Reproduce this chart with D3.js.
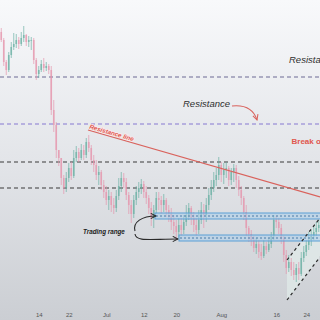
<!DOCTYPE html>
<html><head><meta charset="utf-8">
<script src="https://cdn.jsdelivr.net/npm/d3@7/dist/d3.min.js"></script>
<style>html,body{margin:0;padding:0;overflow:hidden;background:#fff}svg{display:block}</style>
</head><body>
<script>
// ---- data (price units) ----
const firstOpen = 1.1928;
const closes = [1.1920,1.1898,1.1890,1.1905,1.1913,1.1916,1.1920,1.1916,1.1922,1.1925,
1.1918,1.1920,1.1920,1.1900,1.1886,1.1890,1.1896,1.1892,1.1894,1.1890,
1.1850,1.1835,1.1810,1.1802,1.1782,1.1772,1.1782,1.1792,1.1784,1.1802,
1.1808,1.1802,1.1810,1.1805,1.1818,1.1812,1.1800,1.1795,1.1785,1.1788,
1.1775,1.1768,1.1760,1.1764,1.1755,1.1752,1.1764,1.1774,1.1782,1.1778,
1.1765,1.1755,1.1746,1.1760,1.1768,1.1772,1.1776,1.1768,1.1762,1.1752,
1.1742,1.1750,1.1762,1.1760,1.1755,1.1760,1.1750,1.1746,1.1738,1.1734,
1.1728,1.1735,1.1730,1.1738,1.1745,1.1752,1.1742,1.1735,1.1730,1.1740,
1.1750,1.1745,1.1755,1.1765,1.1772,1.1780,1.1785,1.1795,1.1785,1.1790,
1.1792,1.1780,1.1788,1.1792,1.1780,1.1770,1.1762,1.1748,1.1732,1.1726,
1.1720,1.1712,1.1716,1.1708,1.1704,1.1714,1.1710,1.1716,1.1724,1.1740,
1.1738,1.1732,1.1722,1.1705,1.1692,1.1698,1.1690,1.1685,1.1692,1.1686,
1.1702,1.1708,1.1715,1.1720,1.1724,1.1728,1.1732,1.1735];
const highs = [1.1932,1.1922,1.1900,1.1908,1.1918,1.1927,1.1926,1.1923,1.1928,1.1934,
1.1926,1.1924,1.1923,1.1922,1.1902,1.1894,1.1900,1.1902,1.1898,1.1896,
1.1894,1.1860,1.1838,1.1810,1.1802,1.1785,1.1788,1.1797,1.1798,1.1810,
1.1814,1.1812,1.1816,1.1815,1.1822,1.1825,1.1815,1.1805,1.1800,1.1794,
1.1790,1.1780,1.1774,1.1770,1.1768,1.1762,1.1770,1.1782,1.1788,1.1787,
1.1782,1.1768,1.1760,1.1765,1.1774,1.1778,1.1781,1.1779,1.1774,1.1765,
1.1758,1.1755,1.1768,1.1768,1.1764,1.1766,1.1762,1.1755,1.1752,1.1745,
1.1740,1.1742,1.1742,1.1745,1.1755,1.1757,1.1754,1.1748,1.1742,1.1750,
1.1758,1.1756,1.1762,1.1772,1.1780,1.1788,1.1792,1.1803,1.1798,1.1797,
1.1798,1.1794,1.1792,1.1796,1.1795,1.1784,1.1774,1.1764,1.1755,1.1734,
1.1730,1.1724,1.1722,1.1720,1.1716,1.1720,1.1718,1.1722,1.1728,1.1745,
1.1744,1.1742,1.1736,1.1724,1.1710,1.1705,1.1702,1.1698,1.1696,1.1698,
1.1708,1.1714,1.1720,1.1728,1.1730,1.1734,1.1738,1.1740];
const lows = [1.1918,1.1894,1.1885,1.1888,1.1902,1.1910,1.1912,1.1911,1.1914,1.1918,
1.1914,1.1913,1.1910,1.1896,1.1880,1.1882,1.1888,1.1888,1.1889,1.1886,
1.1845,1.1828,1.1802,1.1794,1.1775,1.1766,1.1768,1.1778,1.1780,1.1782,
1.1798,1.1798,1.1800,1.1800,1.1802,1.1808,1.1795,1.1788,1.1780,1.1775,
1.1770,1.1762,1.1755,1.1750,1.1748,1.1746,1.1748,1.1760,1.1768,1.1772,
1.1760,1.1746,1.1737,1.1742,1.1755,1.1762,1.1766,1.1762,1.1756,1.1746,
1.1734,1.1732,1.1746,1.1750,1.1746,1.1748,1.1743,1.1738,1.1730,1.1726,
1.1720,1.1722,1.1724,1.1726,1.1734,1.1740,1.1735,1.1728,1.1724,1.1726,
1.1736,1.1732,1.1738,1.1750,1.1760,1.1768,1.1774,1.1780,1.1778,1.1776,
1.1782,1.1774,1.1775,1.1778,1.1772,1.1764,1.1755,1.1740,1.1724,1.1718,
1.1714,1.1708,1.1706,1.1702,1.1700,1.1702,1.1706,1.1708,1.1712,1.1720,
1.1732,1.1726,1.1716,1.1698,1.1686,1.1688,1.1684,1.1680,1.1678,1.1680,
1.1684,1.1698,1.1704,1.1710,1.1714,1.1720,1.1724,1.1728];

const tickIndex = [15, 27, 42, 57, 70, 88, 110, 122];
const tickLabels = ["14", "22", "Jul", "12", "20", "Aug", "16", "24"];

const levels = [1.1883, 1.1836, 1.1798, 1.1772];
const levelKinds = ["grayPurple", "purple", "black", "black"];

const zoneTop = [1.1747, 1.1725];
const zoneBottom = [1.1741, 1.1719];
const zoneStart = [62, 71.6];

const trendIdx = [35.2, 128];
const trendPrice = [1.1830, 1.1763];

const channelIdx = [114.8, 128];
const channelUpper = [1.1700, 1.1742];
const channelLower = [1.1660, 1.1703];

// annotation anchors (index, price)
const labels = [
  {text: "Resistance", i: 115.6, p: 1.1897, kind: "note"},
  {text: "Resistance", i: 73.2, p: 1.1853, kind: "note"},
  {text: "Break of structure", i: 116.6, p: 1.1816, kind: "break"},
  {text: "Trading range", i: 33.2, p: 1.1726, kind: "range"}
];
const redArrow = [[92.8, 1.1854], [100.8, 1.1856], [102.8, 1.1840]];
const blackArrows = [
  [[54, 1.1729], [53.0, 1.1738], [56.8, 1.1744], [62.4, 1.1744]],
  [[54, 1.1726], [54.4, 1.1718], [60, 1.1721], [71.2, 1.1721]]
];

// ---- drawing ----
const W = 320, H = 320;
const svg = d3.select("body").append("svg").attr("width", W).attr("height", H);
const defs = svg.append("defs");
const grad = defs.append("linearGradient").attr("id", "bg").attr("x1", 0).attr("y1", 0).attr("x2", 0).attr("y2", 1);
grad.append("stop").attr("offset", "0%").attr("stop-color", "#f8f9fb");
grad.append("stop").attr("offset", "50%").attr("stop-color", "#e3e5e9");
grad.append("stop").attr("offset", "100%").attr("stop-color", "#cbced3");
svg.append("rect").attr("width", W).attr("height", H).attr("fill", "url(#bg)");

function marker(id, color) {
  defs.append("marker").attr("id", id).attr("viewBox", "0 0 8 8").attr("refX", 7).attr("refY", 4)
    .attr("markerWidth", 7).attr("markerHeight", 7).attr("orient", "auto").attr("markerUnits", "userSpaceOnUse")
    .append("path").attr("d", "M1,1 L7,4 L1,7").attr("fill", "none").attr("stroke", color).attr("stroke-width", 1.2);
}
marker("arrRed", "#d9625c");
marker("arrBlack", "#2a2a2a");

const x = d3.scaleLinear().domain([0, 128]).range([0, W]);
const y = d3.scaleLinear().domain([1.1960, 1.1640]).range([0, H]);

// channel fill
const chPoly = [[channelIdx[0], channelUpper[0]], [channelIdx[1], channelUpper[1]], [channelIdx[1], channelLower[1]], [channelIdx[0], channelLower[0]]];
svg.append("path").attr("d", d3.line().x(d => x(d[0])).y(d => y(d[1]))(chPoly) + "Z")
  .attr("fill", "#e6f3ee").attr("opacity", 0.55);

// horizontal levels
const levelColor = {grayPurple: "#6c6b93", purple: "#8679d2", black: "#3a3a3a"};
svg.append("g").selectAll("line").data(levels).join("line")
  .attr("x1", 0).attr("x2", W).attr("y1", d => y(d)).attr("y2", d => y(d))
  .attr("stroke", (d, i) => levelColor[levelKinds[i]]).attr("stroke-width", 1.2)
  .attr("stroke-dasharray", "4,3");

// candles
const candles = closes.map((c, i) => ({i, o: i === 0 ? firstOpen : closes[i - 1], c, h: highs[i], l: lows[i]}));
const up = "#66ae a1".replace(" ", ""), down = "#e693ab";
const g = svg.append("g").attr("opacity", 0.82);
g.selectAll("line.wick").data(candles).join("line").attr("class", "wick")
  .attr("x1", d => x(d.i + 0.5)).attr("x2", d => x(d.i + 0.5))
  .attr("y1", d => y(d.h)).attr("y2", d => y(d.l))
  .attr("stroke", d => d.c >= d.o ? up : down).attr("stroke-width", 0.8);
g.selectAll("rect.body").data(candles).join("rect").attr("class", "body")
  .attr("x", d => x(d.i + 0.5) - 0.8).attr("width", 1.6)
  .attr("y", d => y(Math.max(d.o, d.c)))
  .attr("height", d => Math.max(0.8, Math.abs(y(d.o) - y(d.c))))
  .attr("fill", d => d.c >= d.o ? up : down);

// trading range zones
zoneTop.forEach((t, k) => {
  const z = svg.append("g");
  z.append("rect").attr("x", x(zoneStart[k])).attr("width", W - x(zoneStart[k]) + 2)
    .attr("y", y(t)).attr("height", y(zoneBottom[k]) - y(t))
    .attr("fill", "#a9cdeb").attr("fill-opacity", 0.55).attr("stroke", "#5b9fd6").attr("stroke-width", 1);
  const mid = (t + zoneBottom[k]) / 2;
  z.append("line").attr("x1", x(zoneStart[k]) + 1).attr("x2", W).attr("y1", y(mid)).attr("y2", y(mid))
    .attr("stroke", "#3d6f9f").attr("stroke-width", 0.9).attr("stroke-dasharray", "2,2");
});

// resistance trend line
svg.append("line").attr("x1", x(trendIdx[0])).attr("y1", y(trendPrice[0]))
  .attr("x2", x(trendIdx[1])).attr("y2", y(trendPrice[1]))
  .attr("stroke", "#d9625c").attr("stroke-width", 1.3);
const ang = Math.atan2(y(trendPrice[1]) - y(trendPrice[0]), x(trendIdx[1]) - x(trendIdx[0])) * 180 / Math.PI;
svg.append("text").attr("transform", `translate(${x(trendIdx[0]) + 1},${y(trendPrice[0]) - 1.5}) rotate(${ang})`)
  .attr("font-family", "Liberation Sans, Arial, sans-serif").attr("font-size", 6.3)
  .attr("font-weight", "bold").attr("font-style", "italic").attr("fill", "#e0574f")
  .attr("stroke", "#fbeaea").attr("stroke-width", 1.4).attr("paint-order", "stroke")
  .text("Resistance line");

// channel dashed lines
[channelUpper, channelLower].forEach(ch => {
  svg.append("line").attr("x1", x(channelIdx[0])).attr("y1", y(ch[0]))
    .attr("x2", x(channelIdx[1])).attr("y2", y(ch[1]))
    .attr("stroke", "#2a2a2a").attr("stroke-width", 1.2).attr("stroke-dasharray", "3,3");
});

// arrows
svg.append("path").attr("d", `M${x(redArrow[0][0])},${y(redArrow[0][1])} Q${x(redArrow[1][0])},${y(redArrow[1][1])} ${x(redArrow[2][0])},${y(redArrow[2][1])}`)
  .attr("fill", "none").attr("stroke", "#d9625c").attr("stroke-width", 1.1).attr("marker-end", "url(#arrRed)");
blackArrows.forEach(a => {
  svg.append("path").attr("d", `M${x(a[0][0])},${y(a[0][1])} C${x(a[1][0])},${y(a[1][1])} ${x(a[2][0])},${y(a[2][1])} ${x(a[3][0])},${y(a[3][1])}`)
    .attr("fill", "none").attr("stroke", "#2a2a2a").attr("stroke-width", 1.1).attr("marker-end", "url(#arrBlack)");
});

// labels
const styles = {
  note: {size: 9.5, weight: "normal", style: "italic", fill: "#2e2e2e"},
  break: {size: 8, weight: "bold", style: "normal", fill: "#e0574f"},
  range: {size: 6.3, weight: "bold", style: "italic", fill: "#222"}
};
svg.append("g").selectAll("text").data(labels).join("text")
  .attr("x", d => x(d.i)).attr("y", d => y(d.p))
  .attr("font-family", "Liberation Sans, Arial, sans-serif")
  .attr("font-size", d => styles[d.kind].size)
  .attr("font-weight", d => styles[d.kind].weight)
  .attr("font-style", d => styles[d.kind].style)
  .attr("fill", d => styles[d.kind].fill)
  .text(d => d.text);

// x axis
const ax = svg.append("g").attr("transform", `translate(0,${H - 8})`)
  .call(d3.axisBottom(x).tickValues(tickIndex.map(i => i + 0.5)).tickSize(0)
    .tickFormat((d, k) => tickLabels[k]));
ax.select(".domain").remove();
ax.selectAll("text").attr("font-family", "Liberation Sans, Arial, sans-serif")
  .attr("font-size", 6).attr("fill", "#555").attr("dy", "0.4em");
</script>
</body></html>
